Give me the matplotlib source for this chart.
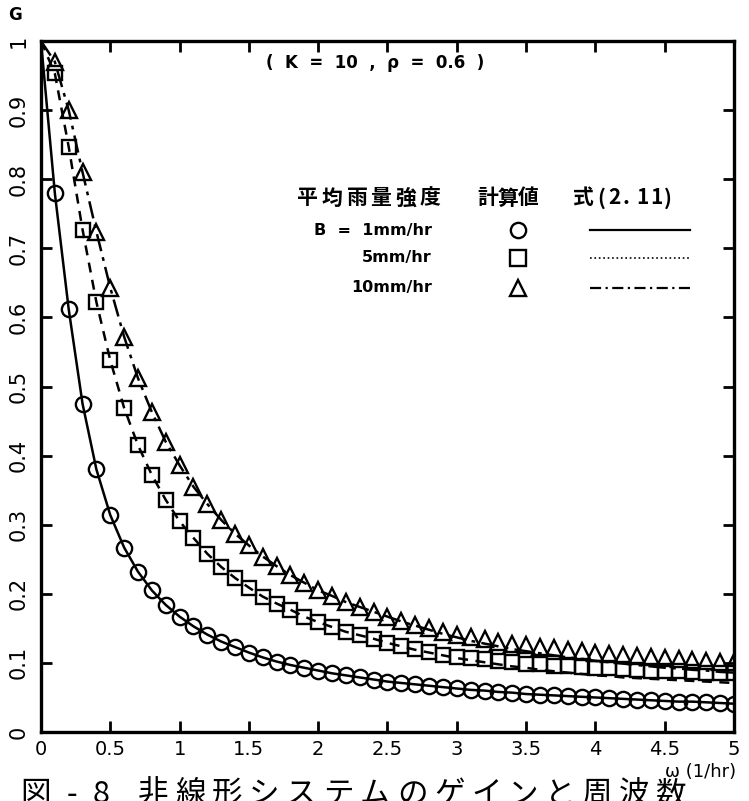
import numpy as np
import matplotlib
matplotlib.use("Agg")
import matplotlib.pyplot as plt

plt.rcParams['font.family'] = ['DejaVu Sans', 'Noto Sans CJK JP']
JP = ['Noto Sans CJK JP', 'DejaVu Sans']

# frequency grid of the computed points (1/hr)
omega = [round(0.1 * i, 1) for i in range(1, 51)]

# computed gain, B = 1 mm/hr
g_b1 = [0.780, 0.612, 0.475, 0.380, 0.314, 0.267, 0.232, 0.205, 0.184, 0.167,
        0.153, 0.141, 0.131, 0.123, 0.115, 0.108, 0.102, 0.097, 0.093, 0.089,
        0.085, 0.082, 0.079, 0.076, 0.073, 0.071, 0.069, 0.067, 0.065, 0.063,
        0.061, 0.060, 0.058, 0.057, 0.055, 0.054, 0.053, 0.052, 0.051, 0.050,
        0.049, 0.048, 0.047, 0.046, 0.045, 0.044, 0.044, 0.043, 0.042, 0.041]

# computed gain, B = 5 mm/hr
g_b5 = [0.953, 0.847, 0.727, 0.622, 0.538, 0.469, 0.415, 0.372, 0.336, 0.305,
        0.281, 0.258, 0.239, 0.223, 0.209, 0.196, 0.186, 0.177, 0.167, 0.159,
        0.152, 0.145, 0.140, 0.135, 0.129, 0.124, 0.120, 0.116, 0.112, 0.109,
        0.107, 0.105, 0.103, 0.101, 0.099, 0.098, 0.096, 0.095, 0.094, 0.093,
        0.092, 0.091, 0.090, 0.089, 0.088, 0.088, 0.087, 0.086, 0.086, 0.085]

# computed gain, B = 10 mm/hr
g_b10 = [0.970, 0.900, 0.810, 0.724, 0.643, 0.572, 0.512, 0.463, 0.420, 0.386,
         0.355, 0.330, 0.307, 0.287, 0.270, 0.254, 0.240, 0.227, 0.216, 0.205,
         0.197, 0.188, 0.181, 0.174, 0.167, 0.161, 0.155, 0.150, 0.145, 0.140,
         0.137, 0.134, 0.131, 0.128, 0.126, 0.123, 0.121, 0.119, 0.117, 0.115,
         0.113, 0.112, 0.110, 0.108, 0.107, 0.106, 0.104, 0.103, 0.102, 0.101]

# eq. (2.11) curves, starting from omega = 0
omega_eq = [0.0] + omega
eq_b1 = [1.0] + g_b1
eq_b5 = [1.0] + g_b5[:25] + [
    0.124, 0.119, 0.115, 0.111, 0.107, 0.104, 0.101, 0.098, 0.095, 0.093,
    0.090, 0.088, 0.086, 0.084, 0.082, 0.081, 0.079, 0.078, 0.077, 0.076,
    0.075, 0.074, 0.073, 0.072, 0.071]
eq_b10 = [1.0] + g_b10[:25] + [
    0.160, 0.154, 0.148, 0.142, 0.137, 0.132, 0.128, 0.124, 0.120, 0.117,
    0.114, 0.111, 0.108, 0.106, 0.103, 0.101, 0.099, 0.097, 0.095, 0.093,
    0.092, 0.090, 0.089, 0.087, 0.086]

x_ticks = [0, 0.5, 1, 1.5, 2, 2.5, 3, 3.5, 4, 4.5, 5]
x_labels = ['0', '0.5', '1', '1.5', '2', '2.5', '3', '3.5', '4', '4.5', '5']
y_ticks = [0, 0.1, 0.2, 0.3, 0.4, 0.5, 0.6, 0.7, 0.8, 0.9, 1.0]
y_labels = ['0', '0.1', '0.2', '0.3', '0.4', '0.5', '0.6', '0.7', '0.8', '0.9', '1']

W, H = 749, 801
fig = plt.figure(figsize=(W / 100, H / 100), dpi=100)
ax = fig.add_axes([0.0547, 0.0861, 0.9253, 0.8627])


def spaced(x_px, y_px, s, pitch, **kw):
    # typewriter style: one glyph per cell, positions in figure pixels from top-left
    for ch in s:
        fig.text(x_px / W, 1 - y_px / H, ch, ha='left', **kw)
        x_px += pitch.get(ch, pitch['*'])


dashdot = (0, (7, 2.5, 1.5, 2.5))
mk = dict(mfc='none', mec='black', mew=1.7, ls='none')

ax.plot(omega_eq, eq_b1, color='black', lw=1.8, ls='-')
ax.plot(omega_eq, eq_b5, color='black', lw=1.8, ls=(0, (4, 3)))
ax.plot(omega_eq, eq_b10, color='black', lw=1.8, ls=dashdot)
ax.plot(omega, g_b1, marker='o', ms=11, **mk)
ax.plot(omega, g_b5, marker='s', ms=10, **mk)
ax.plot(omega, g_b10, marker='^', ms=11, **mk)

ax.set_xlim(0, 5)
ax.set_ylim(0, 1)
ax.set_xticks(x_ticks)
ax.set_xticklabels(x_labels, fontsize=14)
ax.set_yticks(y_ticks)
ax.set_yticklabels(y_labels, fontsize=15, rotation=90, va='center')
ax.tick_params(direction='in', length=8, width=2, top=True, right=True)
ax.tick_params(axis='x', pad=6)
ax.tick_params(axis='y', pad=9)
for sp in ax.spines.values():
    sp.set_linewidth(2.4)

ax.text(2.41, 0.968, '(  K  =  10  ,  ρ  =  0.6  )', fontsize=12, fontweight='bold',
        ha='center', va='center')

# legend block
spaced(297, 198, '平均雨量強度', {'*': 24.5}, family=JP, fontsize=15,
       fontweight='bold', va='center')
spaced(477, 198, '計算値', {'*': 20.5}, family=JP, fontsize=15,
       fontweight='bold', va='center')
spaced(573, 198, '式(2. 11)', {'*': 14, '式': 24, '(': 11, '.': 9, ' ': 5},
       family=JP, fontsize=15, fontweight='bold', va='center')

rows_y = [0.726, 0.686, 0.643]
row_labels = ['B  =  1mm/hr', '5mm/hr', '10mm/hr']
row_markers = ['o', 's', '^']
row_styles = ['-', ':', (0, (5, 2, 1, 2))]
for yy, lab, m, st in zip(rows_y, row_labels, row_markers, row_styles):
    ax.text(2.82, yy, lab, fontsize=11.5, fontweight='bold', ha='right', va='center')
    ax.plot([3.44], [yy], marker=m, ms=11, **mk)
    ax.plot([3.96, 4.68], [yy, yy], color='black', lw=1.6 if st != ':' else 1.2, ls=st)

fig.text(0.02, 0.981, 'G', fontsize=12, fontweight='bold', ha='center', va='center')
fig.text(0.935, 0.036, 'ω (1/hr)', fontsize=13, ha='center', va='center')

# figure caption along the bottom edge of the page
spaced(20, 779, '図 -8 非線形システムのゲインと周波数',
       {'*': 37, ' ': 10, '-': 26, '8': 35},
       family=JP, fontsize=22, va='top')

fig.savefig('out.png', dpi=100)
